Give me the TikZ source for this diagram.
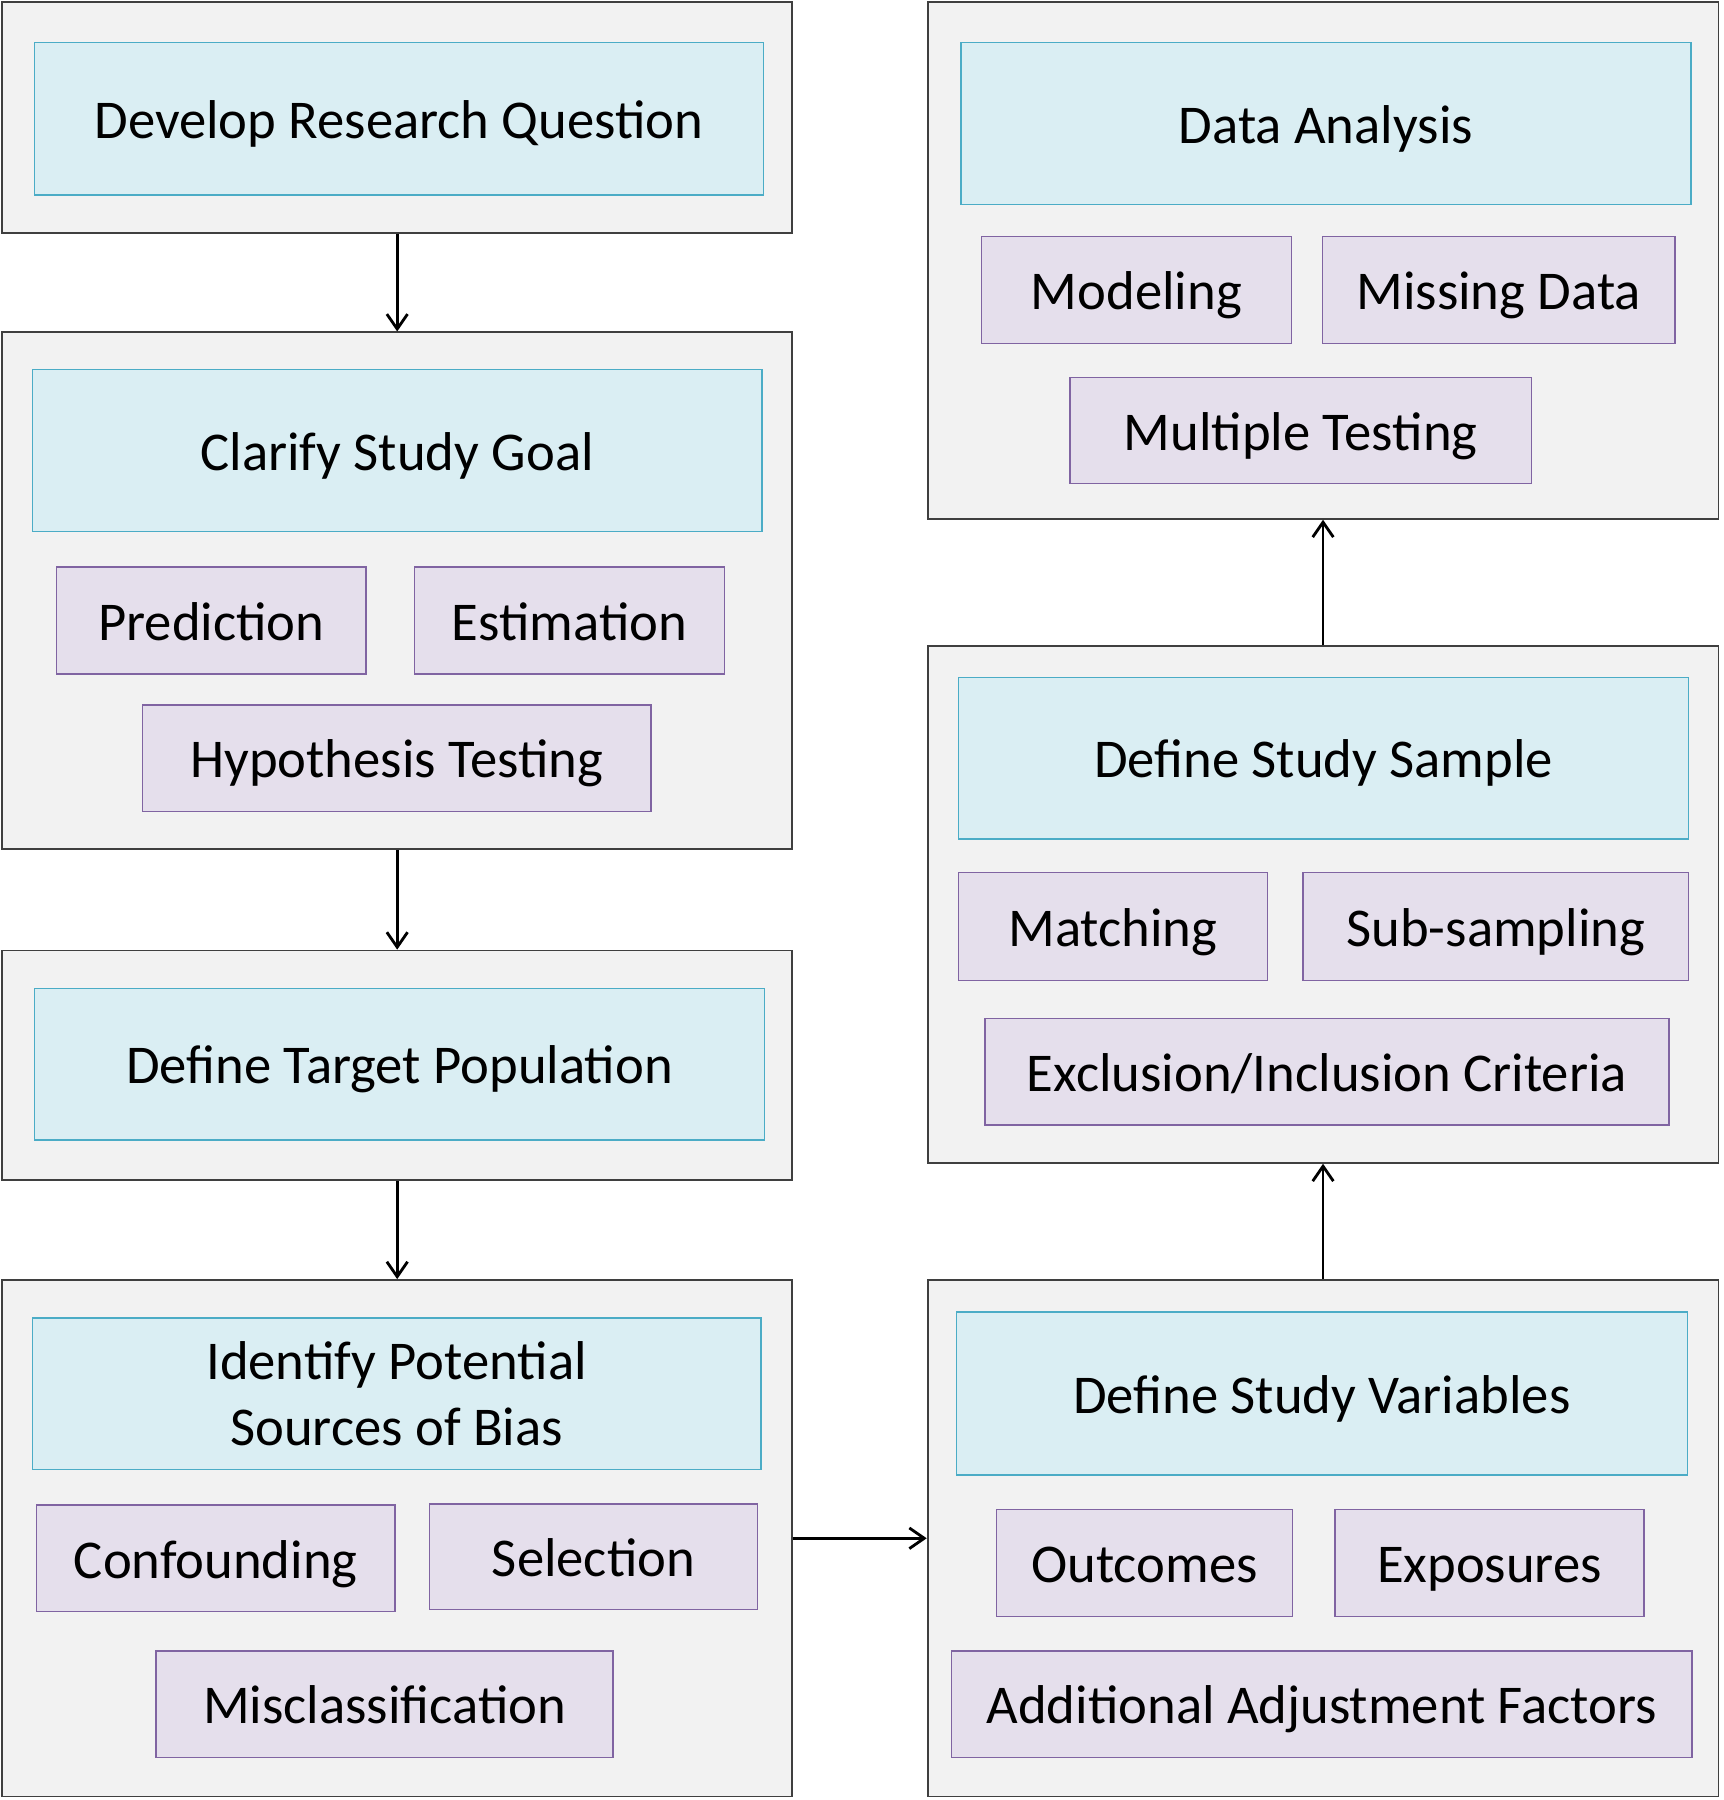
\documentclass[tikz,border=0pt]{standalone}
\usepackage{fontspec}
\setmainfont{Carlito}
\usepackage{xcolor}
\usepackage{tikz}
\usetikzlibrary{arrows.meta, positioning}

\definecolor{panelfill}{HTML}{F2F2F2}
\definecolor{panelline}{HTML}{3F3F3F}
\definecolor{headfill}{HTML}{DAEEF3}
\definecolor{headline}{HTML}{4BACC6}
\definecolor{itemfill}{HTML}{E5DFEC}
\definecolor{itemline}{HTML}{8064A2}

\begin{document}
\begin{tikzpicture}[x=0.02cm, y=-0.02cm,
    font=\fontsize{27.1pt}{32.4pt}\selectfont,
    panel/.style={draw=panelline, fill=panelfill, line width=0.9pt, inner sep=0pt,
        minimum width=13.76cm, minimum height=9cm},
    head/.style={draw=headline, fill=headfill, line width=0.7pt, inner sep=0pt,
        minimum width=12.72cm, minimum height=2.82cm, align=center,
        text height=21.1pt, text depth=1.6pt},
    item/.style={draw=itemline, fill=itemfill, line width=0.7pt, inner sep=0pt,
        minimum height=1.86cm, text height=21.1pt, text depth=1.6pt},
    flow/.style={-{Straight Barb[length=2.6mm, width=3.6mm]}, line width=1.4pt}]
        \useasboundingbox (0,0) rectangle (1501,1568);

        % Panels
        \node[panel, minimum height=4.02cm] (dev)      at (346,102.5)  {};
        \node[panel]                        (goal)     at (346,514.5)  {};
        \node[panel, minimum height=4cm]    (pop)      at (346,928)    {};
        \node[panel]                        (bias)     at (346,1340)   {};
        \node[panel, minimum width=13.78cm] (vars)     at (1152.5,1340) {};
        \node[panel, minimum width=13.78cm] (sample)   at (1152.5,788)  {};
        \node[panel, minimum width=13.78cm] (analysis) at (1152.5,227)  {};

        % Headings
        \node[head, minimum width=12.7cm, minimum height=2.66cm] (devT) at (347.5,103.5) {Develop Research Question};
        \node[head] (goalT) at (346,392.5) {Clarify Study Goal};
        \node[head, minimum height=2.64cm] (popT) at (348,927) {Define Target Population};
        \node[head, minimum width=12.7cm, minimum height=2.64cm, text height={}, text depth={}] (biasT) at (345.5,1214) {Identify Potential\\Sources of Bias};
        \node[head, minimum width=12.74cm, minimum height=2.84cm] (varsT) at (1151.5,1214) {Define Study Variables};
        \node[head] (sampleT) at (1153,660.5) {Define Study Sample};
        \node[head] (analysisT) at (1155,107.5) {Data Analysis};

        % Items
        \node[item, minimum width=5.4cm]   (pred)  at (184,540.5)   {Prediction};
        \node[item, minimum width=5.4cm]   (est)   at (496,540.5)   {Estimation};
        \node[item, minimum width=8.86cm]  (hyp)   at (345.5,660.5) {Hypothesis Testing};
        \node[item, minimum width=6.24cm]  (conf)  at (188,1357.5)  {Confounding};
        \node[item, minimum width=5.72cm, minimum height=1.84cm] (sel) at (517,1356) {Selection};
        \node[item, minimum width=7.96cm]  (miscl) at (335,1484.5)  {Misclassification};
        \node[item, minimum width=5.16cm]  (outc)  at (997,1361.5)  {Outcomes};
        \node[item, minimum width=5.38cm]  (expo)  at (1297.5,1361.5) {Exposures};
        \node[item, minimum width=12.9cm]  (adj)   at (1151.5,1484.5) {Additional Adjustment Factors};
        \node[item, minimum width=5.38cm, minimum height=1.88cm] (match) at (969.5,807) {Matching};
        \node[item, minimum width=6.72cm, minimum height=1.88cm] (subs)  at (1303,807)  {Sub-sampling};
        \node[item, minimum width=11.92cm] (excl)  at (1156,933.5)  {Exclusion/Inclusion Criteria};
        \node[item, minimum width=5.4cm]   (model) at (990,252.5)   {Modeling};
        \node[item, minimum width=6.14cm]  (miss)  at (1305.5,252.5) {Missing Data};
        \node[item, minimum width=8.04cm, minimum height=1.84cm] (mult) at (1133,375) {Multiple Testing};

        % Arrows
        \draw[flow] (dev) -- (goal);
        \draw[flow] (goal) -- (pop);
        \draw[flow] (pop) -- (bias);
        \draw[flow] (bias) -- (vars);
        \draw[flow] (vars) -- (sample);
        \draw[flow] (sample) -- (analysis);
    \end{tikzpicture}
\end{document}
